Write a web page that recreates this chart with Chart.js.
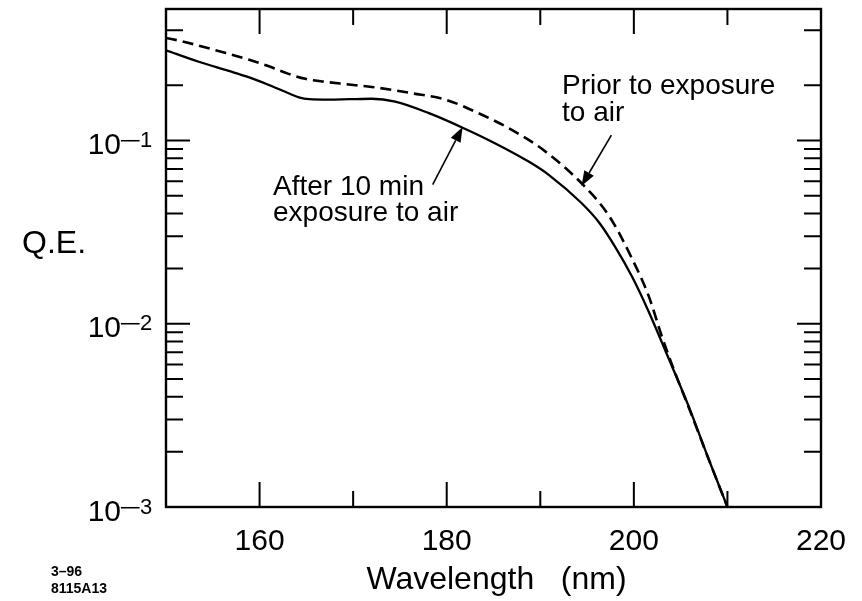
<!DOCTYPE html>
<html>
<head>
<meta charset="utf-8">
<script src="https://cdn.jsdelivr.net/npm/chart.js@4"></script>
<style>
html,body{margin:0;padding:0;background:#ffffff;}
#wrap{width:862px;height:601px;position:relative;}
canvas{display:block;}
</style>
</head>
<body>
<div id="wrap"><canvas id="c" width="862" height="601"></canvas></div>
<script>
// ---- data ----
const solidNm = [150, 153.5, 156.7, 158.9, 161, 163.1, 164.2, 165.3, 167.4, 169.6, 172, 174.5, 178.1, 181.7, 185.2, 188.8, 190.9, 194.4, 196.3, 198, 199.8, 201.6, 203.7, 205.9, 208, 210];
const solidQE = [0.311, 0.269, 0.240, 0.221, 0.201, 0.181, 0.172, 0.168, 0.167, 0.168, 0.169, 0.163, 0.141, 0.1175, 0.0964, 0.0765, 0.0650, 0.0456, 0.0356, 0.0263, 0.0181, 0.0116, 0.0065, 0.0035, 0.00182, 0.001];
const dashedNm = [150, 151.7, 156.4, 158.9, 161, 163.1, 164.9, 166.7, 169.2, 172, 176.3, 179.9, 183.4, 187, 190.2, 194.5, 197.3, 199.8, 201.6, 203, 204.4, 205.9, 208, 210];
const dashedQE = [0.363, 0.348, 0.300, 0.276, 0.254, 0.231, 0.217, 0.210, 0.203, 0.196, 0.181, 0.167, 0.141, 0.114, 0.0898, 0.0578, 0.0391, 0.0227, 0.0141, 0.0085, 0.0054, 0.00346, 0.00182, 0.001];

const xMin = 150, xMax = 220;
const yMin = 0.001, yMax = 0.522;
const xTickValues = [160, 170, 180, 190, 200, 210];
const xMajorTicks = [160, 180, 200];
const xLabelValues = [160, 180, 200, 220];
const yTickValues = [0.002,0.003,0.004,0.005,0.006,0.007,0.008,0.009,0.01,0.02,0.03,0.04,0.05,0.06,0.07,0.08,0.09,0.1,0.2,0.4];
const yDecades = [0.001, 0.01, 0.1];
const yDecadeExp = ['3', '2', '1'];

const xTitle = 'Wavelength   (nm)';
const yTitle = 'Q.E.';
const labelSolid = ['After 10 min', 'exposure to air'];
const labelDashed = ['Prior to exposure', 'to air'];
const stampLines = ['3\u201396', '8115A13'];

const FONT = '"Liberation Sans", Arial, Helvetica, sans-serif';

function arrow(ctx, x1, y1, x2, y2) {
  const ang = Math.atan2(y2 - y1, x2 - x1);
  const hl = 15, hw = 5.5;
  const bx = x2 - hl * Math.cos(ang), by = y2 - hl * Math.sin(ang);
  ctx.beginPath();
  ctx.moveTo(x1, y1);
  ctx.lineTo(bx, by);
  ctx.lineWidth = 1.6;
  ctx.stroke();
  ctx.beginPath();
  ctx.moveTo(x2, y2);
  ctx.lineTo(bx + hw * Math.sin(ang), by - hw * Math.cos(ang));
  ctx.lineTo(bx - hw * Math.sin(ang), by + hw * Math.cos(ang));
  ctx.closePath();
  ctx.fill();
}

const framePlugin = {
  id: 'frame',
  afterDraw(chart) {
    const ctx = chart.ctx;
    const a = chart.chartArea;
    const xs = chart.scales.x, ys = chart.scales.y;
    ctx.save();
    ctx.strokeStyle = '#000';
    ctx.fillStyle = '#000';
    // frame
    ctx.lineWidth = 2.4;
    ctx.strokeRect(a.left, a.top, a.right - a.left, a.bottom - a.top);
    // x ticks (inside, top and bottom)
    ctx.lineWidth = 2;
    xTickValues.forEach(v => {
      const px = xs.getPixelForValue(v);
      const len = xMajorTicks.includes(v) ? 25 : 16;
      ctx.beginPath();
      ctx.moveTo(px, a.bottom); ctx.lineTo(px, a.bottom - len);
      ctx.moveTo(px, a.top); ctx.lineTo(px, a.top + len);
      ctx.stroke();
    });
    // y ticks (inside, left and right)
    yTickValues.forEach(v => {
      const py = ys.getPixelForValue(v);
      const len = yDecades.includes(v) ? 24 : 17;
      ctx.beginPath();
      ctx.moveTo(a.left, py); ctx.lineTo(a.left + len, py);
      ctx.moveTo(a.right, py); ctx.lineTo(a.right - len, py);
      ctx.stroke();
    });
    // x tick labels
    ctx.font = '30px ' + FONT;
    ctx.textAlign = 'center';
    ctx.textBaseline = 'alphabetic';
    xLabelValues.forEach(v => {
      ctx.fillText(String(v), xs.getPixelForValue(v), a.bottom + 43);
    });
    // y tick labels 10^-n
    yDecades.forEach((v, i) => {
      const py = ys.getPixelForValue(v);
      const base = py + 13.5;
      ctx.font = '30px ' + FONT;
      ctx.textAlign = 'right';
      ctx.fillText('10', 121, base);
      ctx.font = '22px ' + FONT;
      ctx.textAlign = 'left';
      ctx.save();
      ctx.translate(119, base - 6);
      ctx.scale(1.75, 1);
      ctx.fillText('\u2212', 0, 0);
      ctx.restore();
      ctx.fillText(yDecadeExp[i], 140, base - 7);
    });
    // axis titles
    ctx.font = '32px ' + FONT;
    ctx.textAlign = 'left';
    ctx.fillText(yTitle, 22, 253);
    ctx.textAlign = 'center';
    ctx.fillText(xTitle, (a.left + a.right) / 2 + 3, 589);
    // annotations
    ctx.font = '28px ' + FONT;
    ctx.textAlign = 'left';
    ctx.fillText(labelDashed[0], 562, 94);
    ctx.fillText(labelDashed[1], 562, 121);
    ctx.fillText(labelSolid[0], 273, 195);
    ctx.fillText(labelSolid[1], 273, 221);
    // arrows anchored in data coordinates
    arrow(ctx, xs.getPixelForValue(197.6), ys.getPixelForValue(0.107),
               xs.getPixelForValue(194.4), ys.getPixelForValue(0.0565));
    arrow(ctx, xs.getPixelForValue(178.5), ys.getPixelForValue(0.0575),
               xs.getPixelForValue(181.7), ys.getPixelForValue(0.1185));
    // stamp
    ctx.font = 'bold 14px ' + FONT;
    ctx.textAlign = 'left';
    ctx.fillText(stampLines[0], 51, 576);
    ctx.fillText(stampLines[1], 51, 593);
    ctx.restore();
  }
};

new Chart(document.getElementById('c'), {
  type: 'scatter',
  data: {
    datasets: [
      {
        label: 'After 10 min exposure to air',
        data: solidNm.map((x, i) => ({x: x, y: solidQE[i]})),
        showLine: true,
        borderColor: '#000',
        borderWidth: 2.3,
        pointRadius: 0,
        cubicInterpolationMode: 'monotone',
        fill: false
      },
      {
        label: 'Prior to exposure to air',
        data: dashedNm.map((x, i) => ({x: x, y: dashedQE[i]})),
        showLine: true,
        borderColor: '#000',
        borderWidth: 2.6,
        borderDash: [11, 6],
        pointRadius: 0,
        cubicInterpolationMode: 'monotone',
        fill: false
      }
    ]
  },
  options: {
    responsive: false,
    devicePixelRatio: 1,
    animation: false,
    layout: { padding: { left: 166, right: 41, top: 9, bottom: 94 } },
    plugins: { legend: { display: false }, tooltip: { enabled: false } },
    scales: {
      x: { type: 'linear', min: xMin, max: xMax, display: false },
      y: { type: 'logarithmic', min: yMin, max: yMax, display: false }
    }
  },
  plugins: [framePlugin]
});
</script>
</body>
</html>
